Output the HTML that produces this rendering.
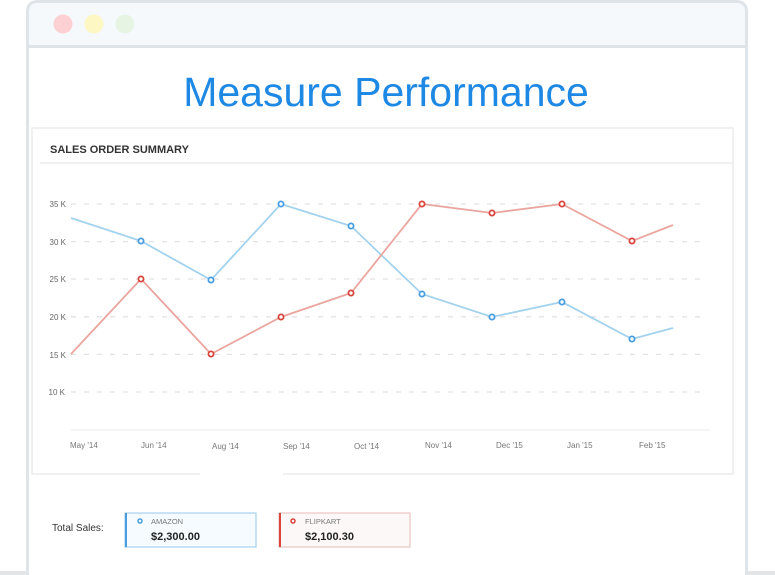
<!DOCTYPE html>
<html><head><meta charset="utf-8"><style>
html,body{margin:0;padding:0;background:#fff;width:775px;height:575px;overflow:hidden;font-family:"Liberation Sans",sans-serif}
</style></head><body>
<svg width="775" height="575" xmlns="http://www.w3.org/2000/svg" style="position:absolute;left:0;top:0">
<rect x="0" y="571" width="775" height="4" fill="#e3e5e7"/>
<path d="M27.5,575 V12 Q27.5,1.5 38,1.5 H736 Q746.5,1.5 746.5,12 V575" fill="#fff" stroke="#dfe4e8" stroke-width="3"/>
<path d="M29,46 V12 Q29,3 38,3 H736 Q745,3 745,12 V46 Z" fill="#f5f9fc"/>
<rect x="29" y="45" width="716" height="3" fill="#dfe4e8"/>
<circle cx="63" cy="24" r="9.5" fill="#fdd0d3"/>
<circle cx="94" cy="24" r="9.5" fill="#fdf7c3"/>
<circle cx="125" cy="24" r="9.5" fill="#e6f4e4"/>
<text x="386" y="106" text-anchor="middle" font-family="Liberation Sans, DejaVu Sans, sans-serif" font-size="41" fill="#1e88e5">Measure Performance</text>
<rect x="32" y="128" width="701" height="346" fill="#fff" stroke="#ececec" stroke-width="1.5"/>
<line x1="40" y1="163" x2="733" y2="163" stroke="#ececec" stroke-width="1.5"/>
<line x1="733" y1="163" x2="733" y2="474" stroke="#ececec"/>
<rect x="200" y="470" width="83" height="8" fill="#fff"/>
<text x="50" y="153" font-size="11" font-weight="bold" fill="#333">SALES ORDER SUMMARY</text>
<g stroke="#e2e2e2" stroke-width="1.3" stroke-dasharray="5,8">
<line x1="71" y1="204" x2="705" y2="204"/><line x1="71" y1="241.6" x2="705" y2="241.6"/>
<line x1="71" y1="279" x2="705" y2="279"/><line x1="71" y1="316.8" x2="705" y2="316.8"/>
<line x1="71" y1="354.4" x2="705" y2="354.4"/><line x1="71" y1="392" x2="705" y2="392"/>
</g>
<g font-size="8" fill="#666" text-anchor="end">
<text x="66" y="207">35 K</text><text x="66" y="245">30 K</text><text x="66" y="282">25 K</text>
<text x="66" y="320">20 K</text><text x="66" y="358">15 K</text><text x="65" y="395">10 K</text>
</g>
<line x1="71" y1="430" x2="710" y2="430" stroke="#eee" stroke-width="1.3"/>
<g font-size="8" fill="#777">
<text x="70" y="448">May '14</text><text x="141" y="448">Jun '14</text><text x="212" y="449">Aug '14</text>
<text x="283" y="449">Sep '14</text><text x="354" y="449">Oct '14</text><text x="425" y="448">Nov '14</text>
<text x="496" y="448">Dec '15</text><text x="567" y="448">Jan '15</text><text x="639" y="448">Feb '15</text>
</g>
<polyline fill="none" stroke="#a3d2ee" stroke-width="1.8" points="71,218 141,241 211,280 281,204 351,226 422,294 492,317 562,302 632,339 673,328"/>
<polyline fill="none" stroke="#eaa59e" stroke-width="1.8" points="71,354 141,279 211,354 281,317 351,293 422,204 492,213 562,204 632,241 673,225"/>
<g fill="#fff" stroke="#4a9ee0" stroke-width="1.8">
<circle cx="141" cy="241" r="2.6"/><circle cx="211" cy="280" r="2.6"/><circle cx="281" cy="204" r="2.6"/><circle cx="351" cy="226" r="2.6"/><circle cx="422" cy="294" r="2.6"/><circle cx="492" cy="317" r="2.6"/><circle cx="562" cy="302" r="2.6"/><circle cx="632" cy="339" r="2.6"/>
</g>
<g fill="#fff" stroke="#d9453d" stroke-width="1.8">
<circle cx="141" cy="279" r="2.6"/><circle cx="211" cy="354" r="2.6"/><circle cx="281" cy="317" r="2.6"/><circle cx="351" cy="293" r="2.6"/><circle cx="422" cy="204" r="2.6"/><circle cx="492" cy="213" r="2.6"/><circle cx="562" cy="204" r="2.6"/><circle cx="632" cy="241" r="2.6"/>
</g>
<text x="52" y="531" font-size="10" fill="#333">Total Sales:</text>
<rect x="125" y="513" width="131" height="34" fill="#f5fbfe" stroke="#a8d2ee" stroke-width="1.2"/>
<rect x="125" y="513" width="2" height="34" fill="#4a9ee0"/>
<circle cx="140" cy="521" r="2" fill="none" stroke="#4a9ee0" stroke-width="1.5"/>
<text x="151" y="524" font-size="7.5" fill="#777">AMAZON</text>
<text x="151" y="540" font-size="11" font-weight="bold" fill="#222">$2,300.00</text>
<rect x="279" y="513" width="131" height="34" fill="#fdf8f8" stroke="#e8c6c4" stroke-width="1.2"/>
<rect x="279" y="513" width="2" height="34" fill="#d9453d"/>
<circle cx="293" cy="521" r="2" fill="none" stroke="#d9453d" stroke-width="1.5"/>
<text x="305" y="524" font-size="7.5" fill="#777">FLIPKART</text>
<text x="305" y="540" font-size="11" font-weight="bold" fill="#222">$2,100.30</text>
</svg>
</body></html>
